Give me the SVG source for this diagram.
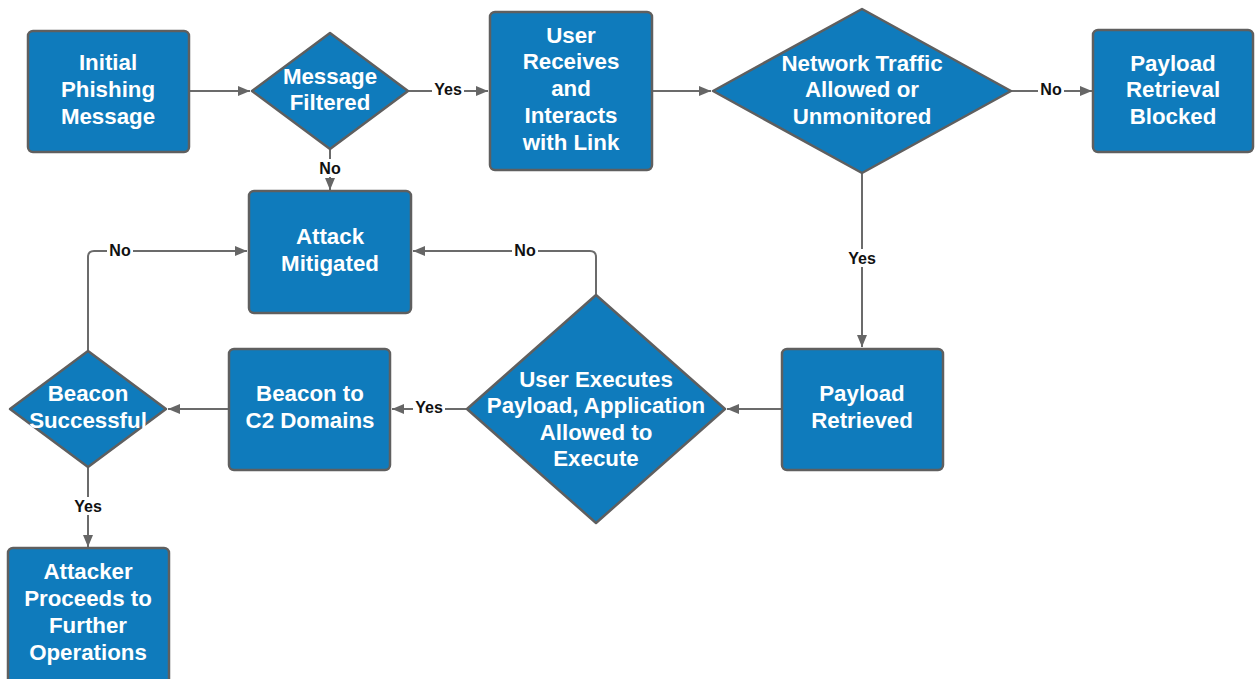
<svg xmlns="http://www.w3.org/2000/svg" width="1255" height="679" viewBox="0 0 1255 679">
<defs>
<style>
.n{fill:#0f7bbc;stroke:#5f5f5f;stroke-width:2.5;stroke-linejoin:round}
.t{font-family:"Liberation Sans",Arial,sans-serif;font-weight:bold;font-size:22.3px;fill:#ffffff;text-anchor:middle}
.c{fill:none;stroke:#6b6b6b;stroke-width:2}
.l{font-family:"Liberation Sans",Arial,sans-serif;font-weight:bold;font-size:16px;fill:#111111;text-anchor:middle}
.lb{fill:#ffffff}
</style>
<marker id="a" viewBox="0 0 12 10" refX="12" refY="5" markerWidth="12" markerHeight="10" markerUnits="userSpaceOnUse" orient="auto">
<path d="M0,0 L12,5 L0,10 z" fill="#666666"/>
</marker>
</defs>
<rect width="1255" height="679" fill="#ffffff"/>
<g id="connectors">
<path class="c" d="M189,91 H250" marker-end="url(#a)"/>
<path class="c" d="M408,91 H488" marker-end="url(#a)"/>
<path class="c" d="M652,91 H711" marker-end="url(#a)"/>
<path class="c" d="M1011,91 H1092" marker-end="url(#a)"/>
<path class="c" d="M330,149 V190" marker-end="url(#a)"/>
<path class="c" d="M862,172 V347" marker-end="url(#a)"/>
<path class="c" d="M781,409 H727" marker-end="url(#a)"/>
<path class="c" d="M596,295 V257 Q596,251 590,251 H413" marker-end="url(#a)"/>
<path class="c" d="M467,409 H392" marker-end="url(#a)"/>
<path class="c" d="M228,409 H168" marker-end="url(#a)"/>
<path class="c" d="M88,351 V257 Q88,251 94,251 H247" marker-end="url(#a)"/>
<path class="c" d="M88,467 V547" marker-end="url(#a)"/>
<rect class="lb" x="432" y="80" width="32" height="18"/><text class="l" x="448" y="95">Yes</text>
<rect class="lb" x="1038" y="80" width="26" height="18"/><text class="l" x="1051" y="95">No</text>
<rect class="lb" x="317" y="159" width="26" height="18"/><text class="l" x="330" y="174">No</text>
<rect class="lb" x="846" y="249" width="32" height="18"/><text class="l" x="862" y="264">Yes</text>
<rect class="lb" x="512" y="242" width="26" height="18"/><text class="l" x="525" y="256">No</text>
<rect class="lb" x="413" y="399" width="32" height="18"/><text class="l" x="429" y="413">Yes</text>
<rect class="lb" x="107" y="242" width="26" height="18"/><text class="l" x="120" y="256">No</text>
<rect class="lb" x="72" y="497" width="32" height="18"/><text class="l" x="88" y="512">Yes</text>
</g>
<g id="initial">
<rect class="n" x="28" y="31" width="161" height="121" rx="5"/>
<text class="t" x="108" y="70">Initial</text>
<text class="t" x="108" y="97">Phishing</text>
<text class="t" x="108" y="124">Message</text>
</g>
<g id="filtered">
<path class="n" d="M330,33 L408,91 L330,149 L252,91 Z"/>
<text class="t" x="330" y="84">Message</text>
<text class="t" x="330" y="110">Filtered</text>
</g>
<g id="user-receives">
<rect class="n" x="490" y="12" width="162" height="158" rx="5"/>
<text class="t" x="571" y="43">User</text>
<text class="t" x="571" y="69">Receives</text>
<text class="t" x="571" y="96">and</text>
<text class="t" x="571" y="123">Interacts</text>
<text class="t" x="571" y="150">with Link</text>
</g>
<g id="network">
<path class="n" d="M862,9 L1011,91 L862,173 L713,91 Z"/>
<text class="t" x="862" y="71">Network Traffic</text>
<text class="t" x="862" y="97">Allowed or</text>
<text class="t" x="862" y="124">Unmonitored</text>
</g>
<g id="blocked">
<rect class="n" x="1093" y="30" width="160" height="122" rx="5"/>
<text class="t" x="1173" y="71">Payload</text>
<text class="t" x="1173" y="97">Retrieval</text>
<text class="t" x="1173" y="124">Blocked</text>
</g>
<g id="mitigated">
<rect class="n" x="249" y="191" width="162" height="122" rx="5"/>
<text class="t" x="330" y="244">Attack</text>
<text class="t" x="330" y="271">Mitigated</text>
</g>
<g id="retrieved">
<rect class="n" x="782" y="349" width="161" height="121" rx="5"/>
<text class="t" x="862" y="401">Payload</text>
<text class="t" x="862" y="428">Retrieved</text>
</g>
<g id="executes">
<path class="n" d="M596,295 L725,409 L596,523 L467,409 Z"/>
<text class="t" x="596" y="387">User Executes</text>
<text class="t" x="596" y="413">Payload, Application</text>
<text class="t" x="596" y="440">Allowed to</text>
<text class="t" x="596" y="466">Execute</text>
</g>
<g id="beacon-c2">
<rect class="n" x="229" y="349" width="161" height="121" rx="5"/>
<text class="t" x="310" y="401">Beacon to</text>
<text class="t" x="310" y="428">C2 Domains</text>
</g>
<g id="beacon-success">
<path class="n" d="M88,351 L166,409 L88,467 L10,409 Z"/>
<text class="t" x="88" y="401">Beacon</text>
<text class="t" x="88" y="428">Successful</text>
</g>
<g id="attacker">
<rect class="n" x="8" y="548" width="161" height="136" rx="5"/>
<text class="t" x="88" y="579">Attacker</text>
<text class="t" x="88" y="606">Proceeds to</text>
<text class="t" x="88" y="633">Further</text>
<text class="t" x="88" y="660">Operations</text>
</g>
</svg>
